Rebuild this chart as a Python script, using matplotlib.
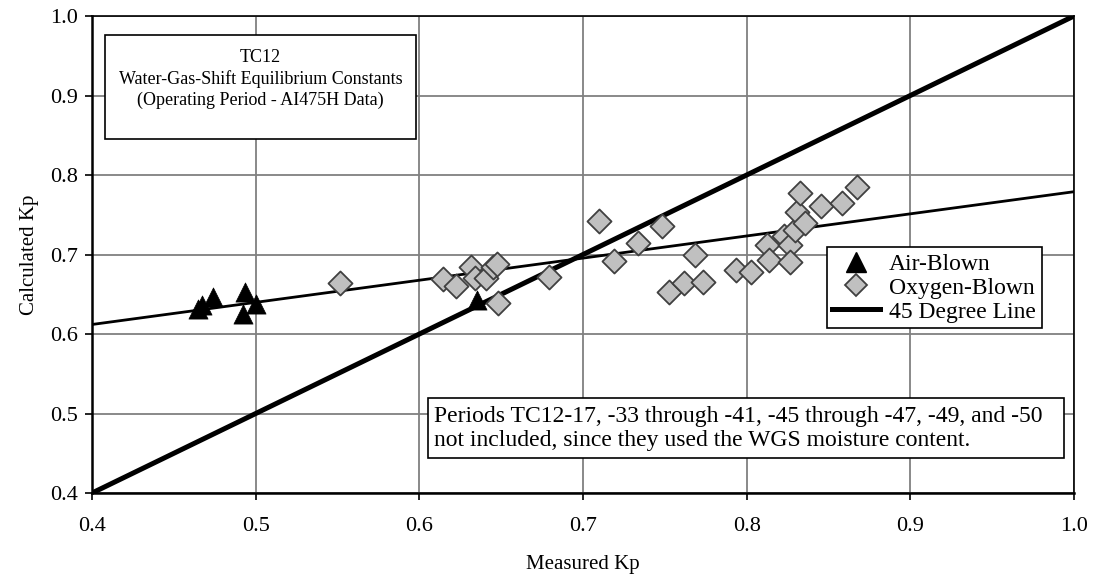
import matplotlib
matplotlib.use("Agg")
import matplotlib.pyplot as plt
from matplotlib.lines import Line2D
from matplotlib.patches import Rectangle

# Air-blown operating periods
air_measured = [0.465, 0.467, 0.4737, 0.4937, 0.5002, 0.4924, 0.6354]
air_calculated = [0.632, 0.637, 0.647, 0.653, 0.638, 0.625, 0.643]

# Oxygen-blown operating periods
oxy_measured = [0.5517, 0.6147, 0.6224, 0.6314, 0.634, 0.6407, 0.6448, 0.6476,
                0.6483, 0.679, 0.7096, 0.7187, 0.7338, 0.748, 0.7684, 0.7527,
                0.7619, 0.7735, 0.7934, 0.8024, 0.8126, 0.8138, 0.8228, 0.8265,
                0.8265, 0.8295, 0.8305, 0.8356, 0.8326, 0.8454, 0.858, 0.8676]
oxy_calculated = [0.664, 0.669, 0.660, 0.684, 0.670, 0.670, 0.684, 0.688,
                  0.639, 0.672, 0.742, 0.692, 0.714, 0.736, 0.700, 0.653,
                  0.664, 0.666, 0.680, 0.678, 0.712, 0.693, 0.723, 0.712,
                  0.690, 0.731, 0.753, 0.740, 0.777, 0.761, 0.765, 0.785]

# Linear trend through the data and the 45 degree reference line
trend_x = [0.4, 1.0]
trend_y = [0.612, 0.779]
diag_x = [0.4, 1.0]
diag_y = [0.4, 1.0]

x_ticks = [0.4, 0.5, 0.6, 0.7, 0.8, 0.9, 1.0]
y_ticks = [0.4, 0.5, 0.6, 0.7, 0.8, 0.9, 1.0]

plt.rcParams["font.family"] = ["Liberation Serif", "DejaVu Serif"]

fig = plt.figure(figsize=(10.97, 5.87), dpi=100)
ax = fig.add_axes([0.0839, 0.1601, 0.8951, 0.8126])

ax.set_xlim(0.4, 1.0)
ax.set_ylim(0.4, 1.0)
ax.set_xticks(x_ticks)
ax.set_yticks(y_ticks)
ax.set_xticklabels([f"{v:.1f}" for v in x_ticks])
ax.set_yticklabels([f"{v:.1f}" for v in y_ticks])
ax.tick_params(axis="both", labelsize=16, direction="out", length=5, width=1.2,
               color="black", pad=5)
ax.tick_params(axis="x", pad=12)
ax.grid(True, color="#808080", linewidth=1.3)
ax.set_axisbelow(True)
for side in ["left", "bottom"]:
    ax.spines[side].set_linewidth(1.8)
for side in ["top", "right"]:
    ax.spines[side].set_linewidth(1.2)

ax.set_xlabel("Measured Kp", fontsize=15, labelpad=14)
ax.set_ylabel("Calculated Kp", fontsize=15, labelpad=8)

ax.plot(trend_x, trend_y, color="black", linewidth=2.0, zorder=3)
ax.plot(diag_x, diag_y, color="black", linewidth=3.6, zorder=3,
        solid_capstyle="round")

ax.scatter(oxy_measured, oxy_calculated, marker="D", s=150, facecolor="#c0c0c0",
           edgecolor="#404040", linewidth=1.3, zorder=4)
ax.scatter(air_measured, air_calculated, marker="^", s=190, facecolor="black",
           edgecolor="black", linewidth=0.5, zorder=5)

# Title box
ax.add_patch(Rectangle((0.408, 0.845), 0.190, 0.131, transform=ax.transData,
                       facecolor="white", edgecolor="black", linewidth=1.2,
                       zorder=6))
ax.text(0.503, 0.921,
        "TC12\nWater-Gas-Shift Equilibrium Constants\n(Operating Period - AI475H Data)",
        ha="center", va="center", fontsize=13, linespacing=1.3, zorder=7)

# Note box
ax.add_patch(Rectangle((0.605, 0.444), 0.389, 0.075, transform=ax.transData,
                       facecolor="white", edgecolor="black", linewidth=1.2,
                       zorder=6))
ax.text(0.609, 0.4815,
        "Periods TC12-17, -33 through -41, -45 through -47, -49, and -50\n"
        "not included, since they used the WGS moisture content.",
        ha="left", va="center", fontsize=17, linespacing=1.2, zorder=7)

# Legend
handles = [
    Line2D([], [], marker="^", linestyle="none", markersize=14,
           markerfacecolor="black", markeredgecolor="black"),
    Line2D([], [], marker="D", linestyle="none", markersize=11,
           markerfacecolor="#c0c0c0", markeredgecolor="#404040",
           markeredgewidth=1.3),
    Line2D([], [], color="black", linewidth=3.6),
]
leg = ax.legend(handles, ["Air-Blown", "Oxygen-Blown", "45 Degree Line"],
                loc="upper left", bbox_to_anchor=(0.748, 0.515),
                fontsize=17, frameon=True, fancybox=False, framealpha=1,
                edgecolor="black", borderpad=0.25, labelspacing=0.1,
                handlelength=2.0, handletextpad=0.4, borderaxespad=0)
leg.get_frame().set_linewidth(1.2)
leg.set_zorder(8)

fig.savefig("out.png", dpi=100)
